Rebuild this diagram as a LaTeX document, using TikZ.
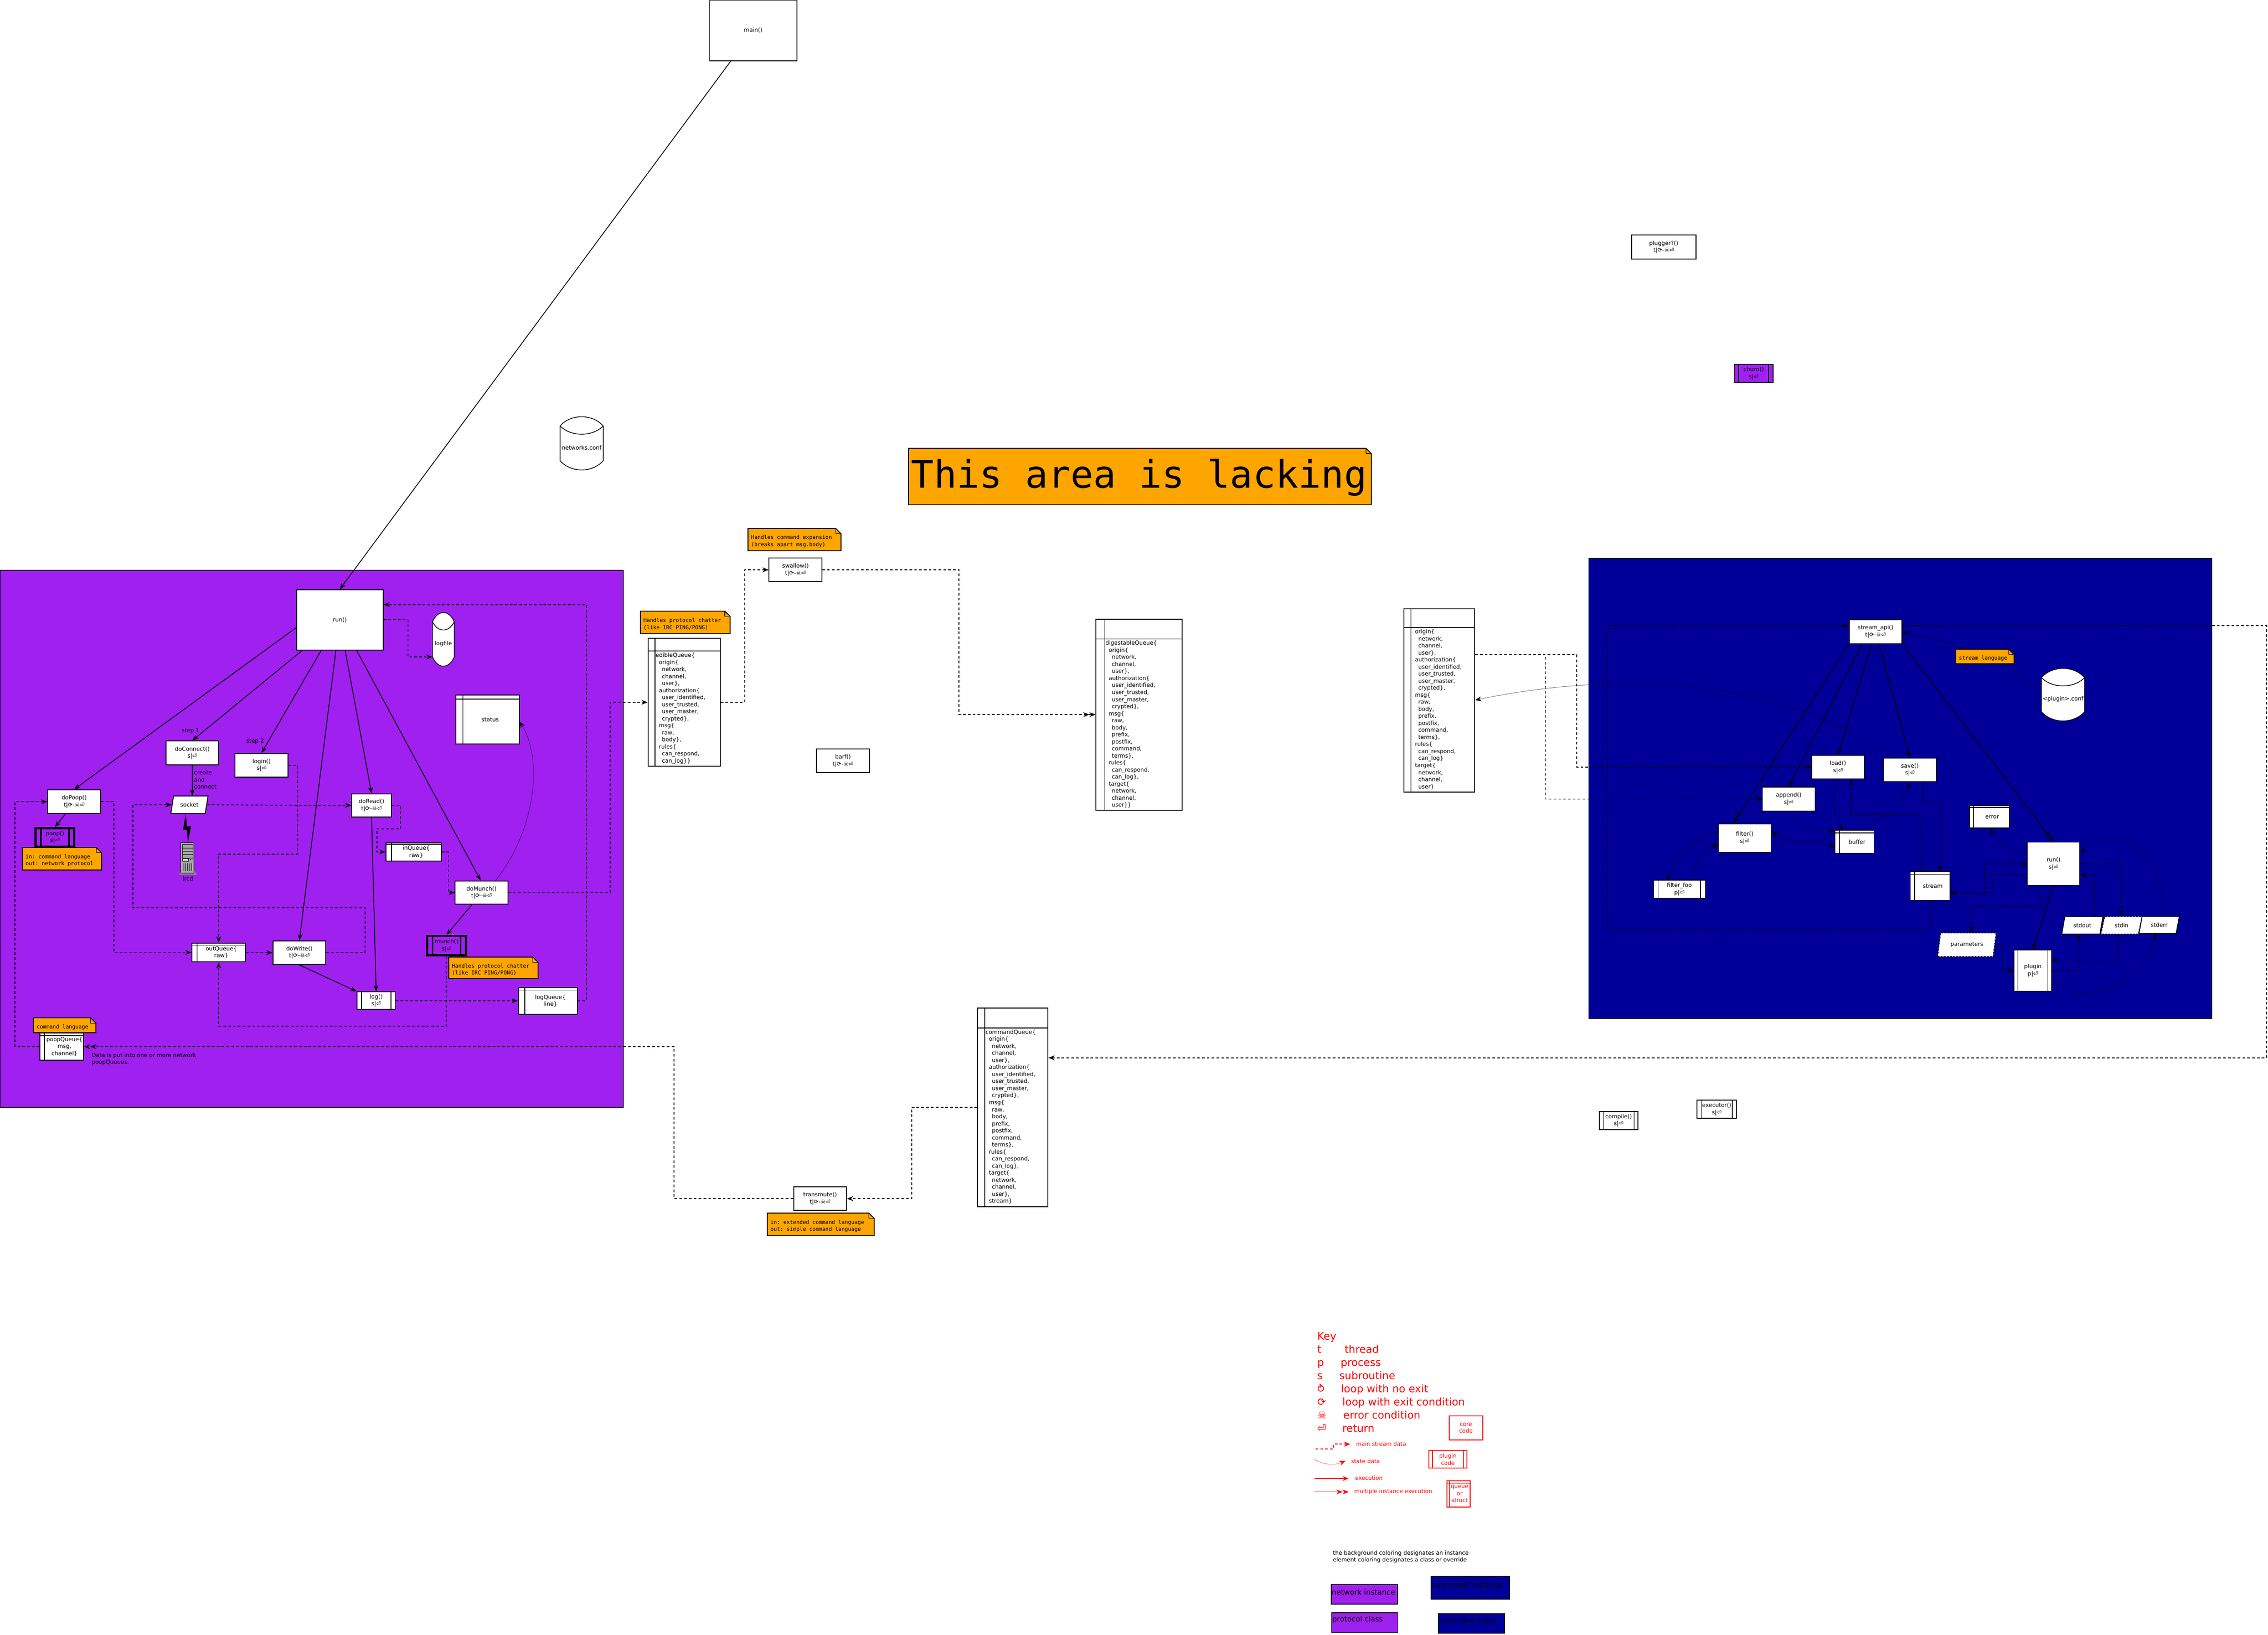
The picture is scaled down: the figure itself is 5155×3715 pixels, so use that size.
\documentclass[tikz,border=0pt]{standalone}
\usepackage{fontspec}
\setmainfont{DejaVu Sans}
\setmonofont{DejaVu Sans Mono}
\usetikzlibrary{positioning}
\usetikzlibrary{shapes.geometric}
\usetikzlibrary{arrows.meta}
\definecolor{netpurple}{HTML}{A020F0}
\definecolor{cmdblue}{HTML}{000099}
\definecolor{noteorange}{HTML}{FFA500}
\newcommand{\tx}{\fontsize{12.8}{16}\selectfont}
\newcommand{\monotx}{\ttfamily\fontsize{12.2}{16}\selectfont}
\newcommand{\tloop}{t|⟳-☠⏎}
\newcommand{\sret}{s|⏎}
\newcommand{\pret}{p|⏎}
\newcommand{\qi}{\hspace*{12pt}}
\newcommand{\fieldA}{\hspace*{7.5pt}}
\newcommand{\fieldB}{\hspace*{14.5pt}}
\newcommand{\keyrow}[3]{\makebox[#1][l]{#2}#3}
% name, left, top, width, height, text
\newcommand{\notebox}[6]{%
\draw [note-path] (#2,#3) -- ({#2+#4-12},#3) -- ({#2+#4},{#3+12}) -- ({#2+#4},{#3+#5}) -- (#2,{#3+#5}) -- cycle;
\draw [note-fold] ({#2+#4-12},#3) -- ({#2+#4-12},{#3+12}) -- ({#2+#4},{#3+12});
\node (#1) [note-text, anchor=west] at ({#2+7},{#3+#5/2+4}) {#6};}
% name, left, top, width, height, text
\newcommand{\dbcyl}[6]{%
\draw [cyl-path] (#2,{#3+21}) .. controls ({#2+#4/4},{#3-7}) and ({#2+#4*3/4},{#3-7}) .. ({#2+#4},{#3+21})
  -- ({#2+#4},{#3+#5-21}) .. controls ({#2+#4*3/4},{#3+#5+7}) and ({#2+#4/4},{#3+#5+7}) .. (#2,{#3+#5-21}) -- cycle;
\draw [cyl-path, fill=none] (#2,{#3+21}) .. controls ({#2+#4/4},{#3+46}) and ({#2+#4*3/4},{#3+46}) .. ({#2+#4},{#3+21});
\node (#1) [text-a, align=center, minimum width=#4 pt] at ({#2+#4/2},{#3+#5/2+10}) {#6};}
\begin{document}
\begin{tikzpicture}
[
x=1pt, y=-1pt,
>={Stealth[length=14pt,width=11pt]},
barcol/.store in=\barcol, barcol=black,
barw/.store in=\barw, barw=1.6pt,
fn-box/.style={rectangle, draw, line width=2pt, fill=white, align=center, inner sep=0pt, font=\tx, minimum width=120pt, minimum height=54pt},
sub-box/.style={fn-box, minimum width=88pt, minimum height=41pt, path picture={
  \draw [\barcol, line width=\barw] ([xshift=#1]path picture bounding box.north west) -- ([xshift=#1]path picture bounding box.south west);
  \draw [\barcol, line width=\barw] ([xshift=-#1]path picture bounding box.north east) -- ([xshift=-#1]path picture bounding box.south east);}},
many-box/.style={sub-box=12pt, barw=4pt, line width=5pt, fill=netpurple, minimum width=88pt, minimum height=42pt},
queue-box/.style 2 args={fn-box, path picture={
  \draw [\barcol, line width=1.6pt] ([xshift=#1]path picture bounding box.north west) -- ([xshift=#1]path picture bounding box.south west);
  \draw [\barcol, line width=1.6pt] ([yshift=-#2]path picture bounding box.north west) -- ([yshift=-#2]path picture bounding box.north east);}},
slant-box/.style={trapezium, trapezium left angle=70, trapezium right angle=110, trapezium stretches=true, draw, line width=2pt, fill=white, align=center, inner sep=0pt, font=\tx},
text-a/.style={inner sep=0pt, align=left, font=\tx},
field-text/.style={inner sep=0pt, align=left, font=\tx},
note-path/.style={draw, line width=2pt, fill=noteorange},
note-fold/.style={draw, line width=1.2pt},
note-text/.style={inner sep=0pt, align=left, font=\monotx},
cyl-path/.style={draw, line width=1.6pt, fill=white},
exec/.style={line width=1.8pt},
flow/.style={line width=1.8pt, dash pattern=on 6pt off 5pt},
state-data/.style={line width=1pt, densely dotted},
swatch/.style={rectangle, draw, line width=2pt, inner sep=0pt},
swatch-text/.style={inner sep=0pt, font=\fontsize{16.7}{20}\selectfont},
key-text/.style={inner sep=0pt, align=left, text=red, font=\tx},
]
\useasboundingbox (0,0) rectangle (5155,3715);
\fill [white] (0,0) rectangle (5155,3715);
\draw [line width=2pt, fill=netpurple] (0,1296) rectangle (1417,2517);
\draw [line width=2pt, fill=cmdblue] (3611,1269) rectangle (5027,2315);

\node (main)     [fn-box, minimum width=198pt, minimum height=138pt] at (1712,69)   {main()};
\node (run)      [fn-box, minimum width=197pt, minimum height=137pt] at (772.5,1408.5) {run()};
\node (doConnect) [fn-box]                                           at (437,1711)  {doConnect()\\\sret};
\node (login)    [fn-box]                                            at (594.5,1739) {login()\\\sret};
\node (doPoop)   [fn-box]                                            at (168.5,1822) {doPoop()\\\tloop};
\node (socket)   [slant-box, minimum width=85pt, minimum height=40pt] at (430.5,1829) {socket};
\node (poop)     [many-box]                                          at (125,1903)  {poop()\\\sret};
\node (doRead)   [fn-box, minimum width=91pt, minimum height=53pt]   at (844.5,1830.5) {doRead()\\\tloop};
\node (doWrite)  [fn-box]                                            at (680.5,2165) {doWrite()\\\tloop};
\node (doMunch)  [fn-box, minimum height=53pt]                       at (1094.5,2028.5) {doMunch()\\\tloop};
\node (munch)    [many-box, minimum height=44pt]                     at (1015,2149) {munch()\\\sret};
\node (log)      [sub-box=10pt, minimum width=87pt, minimum height=40pt] at (855,2274) {log()\\\sret};
\node (status)   [queue-box={16pt}{10pt}, minimum width=144pt, minimum height=112pt] at (1108,1635) {\qi\raisebox{-5pt}{status}};
\node (inQueue)  [queue-box={13pt}{4pt}, minimum width=126pt, minimum height=41pt]  at (940,1936)  {\qi inQueue\{\\\qi raw\}};
\node (logQueue) [queue-box={15pt}{6pt}, minimum width=134pt, minimum height=61pt]  at (1245,2274.5) {\qi logQueue\{\\\qi line\}};
\node (outQueue) [queue-box={12pt}{5pt}, minimum width=122pt, minimum height=43pt]  at (497,2164.5) {\qi outQueue\{\\\qi raw\}};
\node (poopQueue) [queue-box={10pt}{6pt}, minimum width=99pt, minimum height=61pt]  at (140.5,2378.5) {\qi poopQueue\{\\\qi msg,\\\qi channel\}};
\dbcyl{logfile}{983}{1392}{49.5}{122}{logfile}
\dbcyl{netconf}{1273}{947}{98}{121}{networks.conf}
\dbcyl{pluginconf}{4640}{1519}{98}{119.4}{<plugin>.conf}
\node (dataNote) [text-a] at (327,2407) {Data is put into one or more network\\poopQueues.};
\node (step1)    [text-a] at (433,1661) {step 1};
\node (step2)    [text-a] at (580,1685) {step 2};
\node (createLbl) [text-a, anchor=west] at (441,1772) {create\\and\\connect};

\fill [black!45] (411,1978) -- (441,1978) -- (448,1988) -- (407,1988) -- cycle;
\draw [line width=1pt, fill=black!35] (411,1915) rectangle (441,1984);
\draw [line width=.6pt] (415,1919) rectangle (438,1950) (415,1927) -- (438,1927) (415,1934.5) -- (438,1934.5) (415,1942) -- (438,1942);
\draw [line width=.6pt, fill=black!20] (415,1951) rectangle (428,1957);
\draw [line width=.6pt] (418,1962) -- (418,1980) (422,1962) -- (422,1980) (426,1962) -- (426,1980) (431,1962) -- (431,1980) (435,1962) -- (435,1980);
\fill [black] (433,1954) circle (1.5);
\node (ircd) [text-a] at (427,1997) {ircd};
\fill [black] (422,1850) -- (416,1886) -- (425,1886) -- (427,1915) -- (434,1878) -- (425,1878) -- cycle;

\node (edible)   [queue-box={15.5pt}{29pt}, minimum width=164pt, minimum height=291pt] at (1555,1596) {};
\node (edibleT)  [field-text, below right = 34.00pt and 18.00pt of edible.north west]
  {edibleQueue\{\\\fieldA origin\{\\\fieldB network,\\\fieldB channel,\\\fieldB user\},\\\fieldA authorization\{\\\fieldB user\_identified,\\\fieldB user\_trusted,\\\fieldB user\_master,\\\fieldB crypted\},\\\fieldA msg\{\\\fieldB raw,\\\fieldB body\},\\\fieldA rules\{\\\fieldB can\_respond,\\\fieldB can\_log\}\}};
\node (swallow)  [fn-box]                      at (1808,1295) {swallow()\\\tloop};
\node (barf)     [fn-box]                      at (1916,1729) {barf()\\\tloop};
\node (digest)   [queue-box={20pt}{45pt}, minimum width=196pt, minimum height=434pt] at (2589,1624) {};
\node (digestT)  [field-text, below right = 50.00pt and 22.50pt of digest.north west]
  {digestableQueue\{\\\fieldA origin\{\\\fieldB network,\\\fieldB channel,\\\fieldB user\},\\\fieldA authorization\{\\\fieldB user\_identified,\\\fieldB user\_trusted,\\\fieldB user\_master,\\\fieldB crypted\},\\\fieldA msg\{\\\fieldB raw,\\\fieldB body,\\\fieldB prefix,\\\fieldB postfix,\\\fieldB command,\\\fieldB terms\},\\\fieldA rules\{\\\fieldB can\_respond,\\\fieldB can\_log\},\\\fieldA target\{\\\fieldB network,\\\fieldB channel,\\\fieldB user\}\}};
\node (cmdQueue) [queue-box={16pt}{45pt}, minimum width=160pt, minimum height=451pt] at (2302,2516.5) {};
\node (cmdQueueT) [field-text, below right = 50.00pt and 19.00pt of cmdQueue.north west]
  {commandQueue\{\\\fieldA origin\{\\\fieldB network,\\\fieldB channel,\\\fieldB user\},\\\fieldA authorization\{\\\fieldB user\_identified,\\\fieldB user\_trusted,\\\fieldB user\_master,\\\fieldB crypted\},\\\fieldA msg\{\\\fieldB raw,\\\fieldB body,\\\fieldB prefix,\\\fieldB postfix,\\\fieldB command,\\\fieldB terms\},\\\fieldA rules\{\\\fieldB can\_respond,\\\fieldB can\_log\},\\\fieldA target\{\\\fieldB network,\\\fieldB channel,\\\fieldB user\},\\\fieldA stream\}};
\node (plainQueue) [queue-box={16pt}{42pt}, minimum width=161pt, minimum height=416pt] at (3271.5,1592) {};
\node (plainQueueT) [field-text, below right = 47.00pt and 26.00pt of plainQueue.north west]
  {origin\{\\\fieldA network,\\\fieldA channel,\\\fieldA user\},\\authorization\{\\\fieldA user\_identified,\\\fieldA user\_trusted,\\\fieldA user\_master,\\\fieldA crypted\},\\msg\{\\\fieldA raw,\\\fieldA body,\\\fieldA prefix,\\\fieldA postfix,\\\fieldA command,\\\fieldA terms\},\\rules\{\\\fieldA can\_respond,\\\fieldA can\_log\}\\target\{\\\fieldA network,\\\fieldA channel,\\\fieldA user\}};
\node (transmute) [fn-box]                     at (1864,2724) {transmute()\\\tloop};
\node (plugger)  [fn-box, minimum width=146pt] at (3781.5,561.5) {plugger?()\\\tloop};
\node (churn)    [sub-box=10pt, fill=netpurple] at (3986,848.5) {churn()\\\sret};
\node (compile)  [sub-box=9pt]                 at (3679,2546.5) {compile()\\\sret};
\node (executor) [sub-box=9.5pt, minimum width=90pt] at (3902,2521) {executor()\\\sret};

\node (streamApi) [fn-box]                     at (4263,1435.5) {stream\_api()\\\tloop};
\node (load)     [fn-box]                      at (4177.5,1743.5) {load()\\\sret};
\node (save)     [fn-box]                      at (4341,1749.5) {save()\\\sret};
\node (append)   [fn-box]                      at (4065.5,1816) {append()\\\sret};
\node (filter)   [fn-box, minimum height=65pt] at (3965.5,1904.5) {filter()\\\sret};
\node (buffer)   [queue-box={10pt}{6pt}, minimum width=89pt, minimum height=52pt] at (4215,1913) {\qi buffer};
\node (errorQ)   [queue-box={9pt}{4pt}, minimum width=90pt, minimum height=51pt]  at (4522,1856.5) {\qi error};
\node (runB)     [fn-box, minimum height=98pt] at (4667.5,1963) {run()\\\sret};
\node (stream)   [queue-box={10pt}{6pt}, minimum width=90pt, minimum height=65pt] at (4387,2013.5) {\qi stream};
\node (filterFoo) [sub-box=11pt, minimum width=118pt] at (3817,2021) {filter\_foo\\\pret};
\node (plugin)   [sub-box=8.5pt, minimum width=85pt, minimum height=94pt] at (4620.5,2205.5) {plugin\\\pret};
\node (parameters) [slant-box, dash pattern=on 4pt off 3pt, minimum width=134pt, minimum height=54pt] at (4470.5,2147) {parameters};
\node (stdout)   [slant-box, minimum width=94pt, minimum height=40pt] at (4733,2103) {stdout};
\node (stdin)    [slant-box, dash pattern=on 4pt off 3pt, minimum width=94pt, minimum height=40pt] at (4822,2103) {stdin};
\node (stderr)   [slant-box, minimum width=92pt, minimum height=39pt] at (4907.5,2102) {stderr};

\draw [->, exec] (main) -- (run.north);
\draw [->, exec] ([yshift=-18pt]run.west) -- (doPoop.north);
\draw [->, exec] ([xshift=14pt]run.south west) -- (doConnect.north);
\draw [->, exec] ([xshift=57pt]run.south west) -- (login.north);
\draw [->, exec] ([xshift=-9pt]run.south) -- (doWrite.north);
\draw [->, exec] ([xshift=12pt]run.south) -- (doRead.north);
\draw [->, exec] ([xshift=38pt]run.south) -- ([xshift=-2pt]doMunch.north);
\draw [->, exec] (doConnect.south) -- (doConnect.south |- socket.north);
\draw [->, exec] ([xshift=-20pt]doPoop.south) -- (poop.north);
\draw [->, exec] (doRead.south) -- (log.north);
\draw [->, exec] (doWrite.south) -- (log.north west);
\draw [->, exec] ([xshift=-22pt]doMunch.south) -- (munch.north);

\draw [->, flow] (doPoop.east) -- ++(29,0) |- (outQueue.west);
\draw [->, flow] (poopQueue.west) -- ++(-56,0) |- (doPoop.west);
\draw [->, flow] (doWrite.east) -| (830,2063) -| (302,1829) -- (socket.west);
\draw [->, flow] (socket.east) -- (doRead.west);
\draw [->, flow] (login.east) -| (676,1941) -| (outQueue.north);
\draw [->, flow] (outQueue.east) -- (doWrite.west);
\draw [->, flow] (munch.south) |- (497,2332) -- (outQueue.south);
\draw [->, flow] (doRead.east) -| (910.5,1883.5) -| (856.5,1936) -- (inQueue.west);
\draw [->, flow] (inQueue.east) -| (1019,2028.5) -- (doMunch.west);
\draw [->, flow] (doMunch.east) -| (1386.5,1596) -- (edible.west);
\draw [->, flow] (log.east) -- (logQueue.west);
\draw [->, flow] (logQueue.east) -| (1333,1374) -- ([yshift=34.5pt]run.east);
\draw [->, flow] (run.east) -| (927.5,1493) -- ([yshift=-30pt]logfile.west);
\draw [->, flow] (edible.east) -| (1692.5,1295) -- (swallow.west);
\draw [->>, flow] (swallow.east) -| (2179.5,1624) -- (digest.west);
\draw [->, flow] (cmdQueue.west) -| (2072,2724) -- (transmute.east);
\draw [->>, flow] (transmute.west) -| (1532,2378.5) -- (poopQueue.east);
\draw [->, flow] ([yshift=13.5pt]streamApi.east) -| (5152,2404) -- ([yshift=112.5pt]cmdQueue.east);
\draw [->, flow] ([yshift=104pt]plainQueue.east) -| (3584,1743.5) -- (load.west);
\draw [->, flow] ([yshift=104pt]plainQueue.east) -| (3513,1816) -- (append.west);
\draw [->, flow] (stream.south) |- (3654,2110) |- ([yshift=13.5pt]streamApi.west);
\draw [->, flow] ([xshift=-23pt]stream.north) |- (4207.5,1851) -- ([xshift=30pt]load.south);
\draw [->, flow] ([xshift=30pt]save.south) |- (4410,1825) -- ([xshift=23pt]stream.north);
\draw [->, flow] ([yshift=-16pt]stream.east) -| (4511.5,1963) -- (runB.west);
\draw [->, flow] ([yshift=-25pt]runB.west) -| (4528.5,2029) -- ([yshift=-15.5pt]stream.east);
\draw [->, flow] ([xshift=-30pt]runB.south) |- (4480,2060) -- ([xshift=9.5pt]parameters.north);
\draw [->, flow] (runB.east) -| (stdin.north);
\draw [->, flow] ([xshift=27pt]stdout.north) |- ([yshift=-25pt]runB.east);
\draw [->, flow] ([xshift=-8pt]stdin.south) |- ([yshift=23.5pt]plugin.east);
\draw [->, flow] (plugin.east) -| ([xshift=-8pt]stdout.south);
\draw [->, flow] (parameters.east) -| (4552,2205.5) -- (plugin.west);

\draw [->>, exec] (streamApi.south west) -- ([xshift=-26pt]filter.north);
\draw [->, exec] ([xshift=-30pt]streamApi.south) -- (append.north);
\draw [->, exec] ([xshift=-9pt]streamApi.south) -- (load.north);
\draw [->, exec] ([xshift=8pt]streamApi.south) -- (save.north);
\draw [->>, exec] (streamApi.south east) -- (runB.north);
\draw [->, exec] (runB.south) -- (plugin.north);

\draw [->, state-data] ([xshift=32pt]doMunch.north) .. controls (1222,1880) and (1232,1720) .. ([yshift=-5pt]status.east);
\path [->, state-data] (append.south) edge [bend right=25] ([yshift=-2pt]buffer.north west);
\path [->, state-data] (load.south) edge [bend right=25] ([xshift=19pt]buffer.north west);
\path [->, state-data] ([xshift=24pt]buffer.north west) edge [bend right=30] ([yshift=-2pt]save.south);
\path [->, state-data] ([yshift=12pt]buffer.west) edge [bend left=25] ([yshift=15pt]filter.east);
\path [->, state-data] ([yshift=-15pt]filter.east) edge [bend left=15] ([yshift=-11pt]buffer.west);
\path [->, state-data] ([yshift=14pt]filter.west) edge [bend right=25] ([xshift=-27pt]filterFoo.north);
\path [->, state-data] ([xshift=28pt]filterFoo.north) edge [bend left=30] ([yshift=-14pt]filter.west);
\path [->, state-data] ([yshift=24pt]runB.west) edge [bend left=30] ([xshift=2pt]errorQ.south);
\draw [->, state-data] ([xshift=10pt]stderr.north) .. controls (4925,1960) and (4830,1860) .. ([yshift=25pt]runB.east);
\draw [->, state-data] ([yshift=-25pt]plugin.east) .. controls (4710,2290) and (4870,2250) .. ([xshift=-8pt]stderr.south);
\draw [->, state-data] ([xshift=-35pt]save.north) .. controls (4000,1510) and (3600,1540) .. ([yshift=1pt]plainQueue.east);
\draw [->, state-data] ([yshift=20pt]pluginconf.west) .. controls (4560,1500) and (4430,1455) .. ([yshift=-2pt]streamApi.east);

\notebox{poopNote}{51}{1926}{180}{51}{in: command language\\out: network protocol}
\notebox{cmdNote}{76}{2313}{142}{34}{command language}
\notebox{munchNote}{1020}{2175}{203}{49}{Handles protocol chatter\\(like IRC PING/PONG)}
\notebox{edibleNote}{1455.5}{1389}{204}{51}{Handles protocol chatter\\(like IRC PING/PONG)}
\notebox{swallowNote}{1700}{1201}{211.5}{50.5}{Handles command expansion\\(breaks apart msg.body)}
\notebox{transmuteNote}{1744}{2757}{243}{51}{in: extended command language\\out: simple command language}
\notebox{streamNote}{4445}{1475.5}{133}{33}{stream language}
\draw [note-path] (2065,1019) -- (3105,1019) -- (3117,1031) -- (3117,1147) -- (2065,1147) -- cycle;
\draw [note-fold] (3105,1019) -- (3105,1031) -- (3117,1031);
\node (lacking) [inner sep=0pt, anchor=west, font=\ttfamily\fontsize{86}{100}\selectfont] at (2071,1085) {This area is lacking};

\node (keyText)  [inner sep=0pt, align=left, anchor=west, text=red, font=\fontsize{23.8}{30}\selectfont] at (2994,3141)
  {Key\\\keyrow{62pt}{t}{thread}\\\keyrow{53pt}{p}{process}\\\keyrow{50pt}{s}{subroutine}\\\keyrow{54pt}{⥁}{loop with no exit}\\\keyrow{57pt}{⟳}{loop with exit condition}\\\keyrow{59pt}{☠}{error condition}\\\keyrow{57pt}{⏎}{return}};
\node (coreKey)  [fn-box, draw=red, text=red, minimum width=76pt, minimum height=54pt] at (3332,3245) {core\\code};
\node (plugKey)  [sub-box=8.5pt, barcol=red, draw=red, text=red, minimum width=87pt, minimum height=40pt] at (3291,3316.5) {plugin\\code};
\node (queueKey) [queue-box={6pt}{6pt}, barcol=red, draw=red, text=red, minimum width=52pt, minimum height=60pt] at (3315,3395) {\hspace*{5pt}queue\\\hspace*{5pt}or\\\hspace*{5pt}struct};
\coordinate (k1a) at (2990,3293);
\coordinate (k1b) at (3031,3293);
\coordinate (k1c) at (3069,3282);
\coordinate (k2a) at (2986.5,3316.5);
\coordinate (k2b) at (3058,3320);
\coordinate (k3a) at (2988,3360);
\coordinate (k3b) at (3065.5,3360);
\coordinate (k4a) at (2987,3390.5);
\coordinate (k4b) at (3065.5,3390.5);
\draw [->, flow, red] (k1a) -- (k1b) |- (k1c);
\path [->, state-data, red] (k2a) edge [bend right=25] (k2b);
\draw [->, exec, red] (k3a) -- (k3b);
\draw [->>, exec, red] (k4a) -- (k4b);
\node (k1lbl) [key-text, anchor=west] at (3082,3282) {main stream data};
\node (k2lbl) [key-text, anchor=west] at (3071,3321) {state data};
\node (k3lbl) [key-text, anchor=west] at (3080,3359) {execution};
\node (k4lbl) [key-text, anchor=west] at (3078,3389.5) {multiple instance execution};
\node (bgNote) [text-a, anchor=west] at (3029.5,3538) {the background coloring designates an instance\\element coloring designates a class or override};

\node (netInst)  [swatch, fill=netpurple, minimum width=150pt, minimum height=45pt] at (3101,3623.5) {};
\node (protoCl)  [swatch, fill=netpurple, minimum width=150pt, minimum height=45pt] at (3102,3687.5) {};
\node (cmdInst)  [swatch, fill=cmdblue, minimum width=178pt, minimum height=51pt]   at (3342,3608.5) {};
\node (cmdCl)    [swatch, fill=cmdblue, minimum width=151pt, minimum height=45pt]   at (3344.5,3689.5) {};
\node (netInstT) [swatch-text, anchor=west] at (3027,3618) {network instance};
\node (protoClT) [swatch-text, anchor=west] at (3028,3681) {protocol class};
\node (cmdInstT) [swatch-text, anchor=west] at (3254.5,3601.5) {command instance};
\node (cmdClT)   [swatch-text, anchor=west] at (3270.5,3683.5) {command class};
\end{tikzpicture}
\end{document}
